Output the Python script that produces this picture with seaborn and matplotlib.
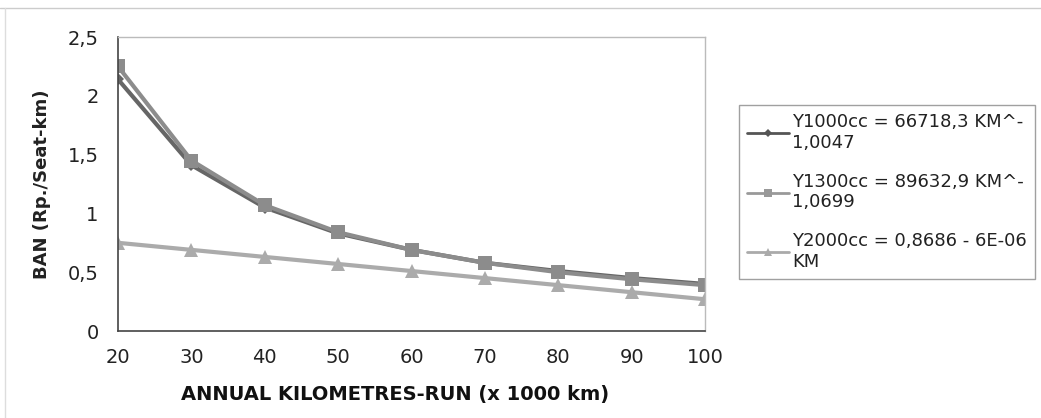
import matplotlib
matplotlib.use("Agg")
import matplotlib.pyplot as plt
import seaborn as sns
import pandas as pd
from matplotlib.lines import Line2D

km = [20, 30, 40, 50, 60, 70, 80, 90, 100]
y1000 = [2.14, 1.41, 1.05, 0.83, 0.69, 0.58, 0.51, 0.45, 0.40]
y1300 = [2.25, 1.45, 1.07, 0.84, 0.69, 0.58, 0.50, 0.44, 0.39]
y2000 = [0.75, 0.69, 0.63, 0.57, 0.51, 0.45, 0.39, 0.33, 0.27]
series_names = ["Y1000cc = 66718,3 KM^-\n1,0047",
                "Y1300cc = 89632,9 KM^-\n1,0699",
                "Y2000cc = 0,8686 - 6E-06\nKM"]
y_ticks = [0, 0.5, 1, 1.5, 2, 2.5]
y_tick_labels = ["0", "0,5", "1", "1,5", "2", "2,5"]
x_label = "ANNUAL KILOMETRES-RUN (x 1000 km)"
y_label = "BAN (Rp./Seat-km)"

sns.set_style("white")
plt.rcParams['font.family'] = ['DejaVu Sans']

df = pd.DataFrame({
    "km": km * 3,
    "val": y1000 + y1300 + y2000,
    "series": [series_names[0]] * len(km) + [series_names[1]] * len(km) + [series_names[2]] * len(km),
})

colors = ["#666666", "#8c8c8c", "#ababab"]
markers = ["D", "s", "^"]
msizes = [6, 10, 10]

fig = plt.figure(figsize=(10.41, 4.18), dpi=100)
ax = fig.add_axes([0.1134, 0.2081, 0.5639, 0.7033])

for i, name in enumerate(series_names):
    sub = df[df["series"] == name]
    sns.lineplot(data=sub, x="km", y="val", ax=ax, color=colors[i], marker=markers[i],
                 markersize=msizes[i], markeredgewidth=0, linewidth=3, legend=False)

ax.set_xlim(20, 100)
ax.set_ylim(0, 2.5)
ax.set_xticks(km)
ax.set_xticklabels([str(v) for v in km], fontsize=14)
ax.set_yticks(y_ticks)
ax.set_yticklabels(y_tick_labels, fontsize=14)
ax.tick_params(axis="both", direction="out", length=5, width=1, colors="#444444", labelcolor="#222222")
ax.tick_params(axis="x", pad=7)
ax.tick_params(axis="y", pad=9)
ax.set_xlabel(x_label, fontsize=14, fontweight="bold", color="#111111")
ax.xaxis.set_label_coords(0.472, -0.185)
ax.set_ylabel(y_label, fontsize=13, fontweight="bold", color="#222222")
ax.yaxis.set_label_coords(-0.115, 0.5)

for side in ["left", "bottom"]:
    ax.spines[side].set_color("#444444")
    ax.spines[side].set_linewidth(1.2)
for side in ["top", "right"]:
    ax.spines[side].set_color("#bbbbbb")
    ax.spines[side].set_linewidth(1.0)

leg_colors = ["#555555", "#999999", "#aaaaaa"]
handles = [Line2D([0], [0], color=leg_colors[i], marker=markers[i], markersize=[4, 6, 6][i],
                  markeredgewidth=0, linewidth=2) for i in range(3)]
leg = fig.legend(handles, series_names, loc="upper left", bbox_to_anchor=(0.710, 0.749),
                 fontsize=13, frameon=True, fancybox=False, handlelength=2.3,
                 handletextpad=0.2, labelspacing=1.15, borderpad=0.45, borderaxespad=0)
leg.get_frame().set_edgecolor("#888888")
leg.get_frame().set_linewidth(1.0)
for t in leg.get_texts():
    t.set_color("#222222")

# faint outer frame lines
fig.add_artist(Line2D([0.0, 1.0], [0.98, 0.98], color="#cccccc", linewidth=1, transform=fig.transFigure))
fig.add_artist(Line2D([0.005, 0.005], [0.0, 0.98], color="#dddddd", linewidth=1, transform=fig.transFigure))

fig.savefig("out.png", dpi=100)
